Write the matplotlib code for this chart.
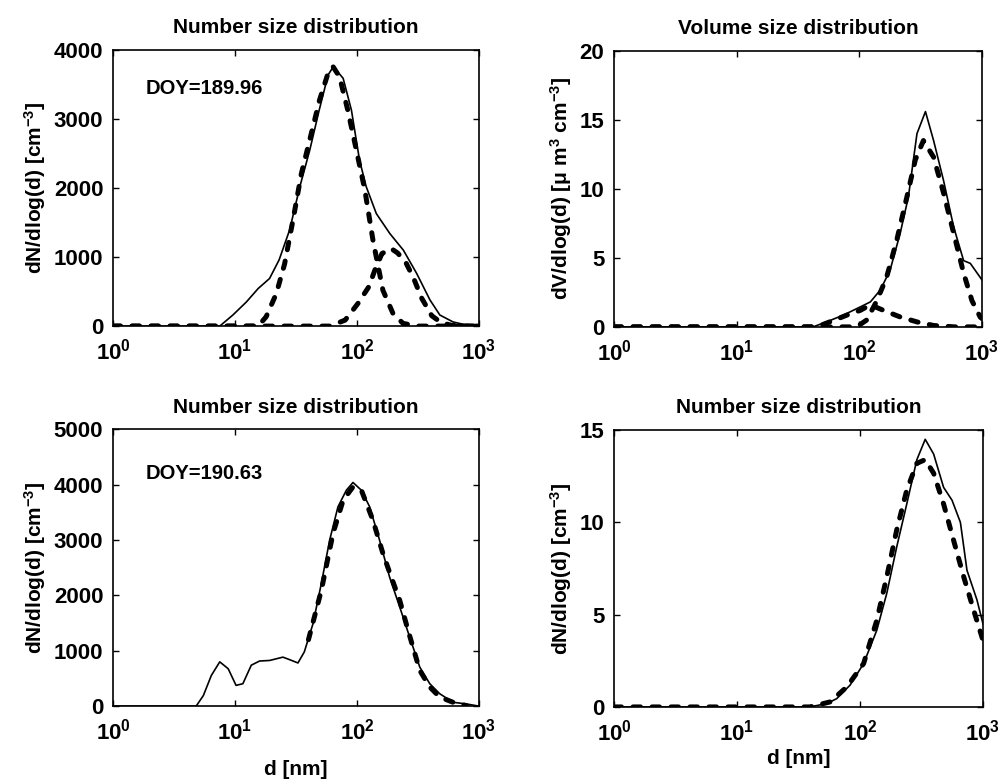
import numpy as np
import matplotlib
matplotlib.use('Agg')
from matplotlib import pyplot as plt

plt.rcParams['font.family'] = 'Liberation Sans'
plt.rcParams['font.weight'] = 'bold'
plt.rcParams['mathtext.fontset'] = 'custom'
plt.rcParams['mathtext.rm'] = 'Liberation Sans:bold'
plt.rcParams['mathtext.it'] = 'Liberation Sans:bold'
plt.rcParams['mathtext.bf'] = 'Liberation Sans:bold'

# panel 1: number size distribution, DOY 189.96
d1_meas = [1, 7.5, 9.6, 12.4, 15.5, 19.2, 23, 28, 34, 41, 49, 58, 64, 77, 90, 105, 119,
           144, 186, 240, 309, 396, 478, 613, 790, 1000]
n1_meas = [0, 0, 160, 350, 545, 690, 960, 1390, 2020, 2550, 3130, 3640, 3760, 3590, 3130,
           2400, 2020, 1630, 1340, 1100, 760, 380, 160, 60, 15, 0]
d1_fit1 = [1, 15.5, 18, 21.8, 25.5, 29.9, 35, 41, 49.4, 57.8, 63.6, 72, 84, 98.8, 116, 135,
           163, 197, 238, 309, 1000]
n1_fit1 = [0, 0, 135, 470, 900, 1540, 2210, 2700, 3280, 3660, 3760, 3610, 3130, 2550, 1970,
           1250, 520, 185, 40, 0, 0]
d1_fit2 = [1, 60, 80, 102, 125, 140, 160, 190, 215, 250, 290, 340, 410, 490, 600, 1000]
n1_fit2 = [0, 0, 87, 330, 570, 810, 1050, 1125, 1060, 930, 700, 400, 150, 50, 10, 0]

# panel 2: volume size distribution
d2_meas = [1, 42, 54, 74, 102, 123, 148, 178, 215, 251, 295, 346, 403, 486, 587, 708, 803, 1000]
v2_meas = [0, 0, 0.36, 0.85, 1.45, 1.81, 2.66, 4.1, 6.76, 9.4, 14.0, 15.6, 13.5, 10.6, 7.25,
           4.8, 4.6, 3.4]
d2_fit1 = [1, 42, 48, 61, 79, 102, 123, 157, 215, 295, 403, 600, 1000]
v2_fit1 = [0, 0, 0.1, 0.45, 0.85, 1.2, 1.6, 1.2, 0.72, 0.36, 0.1, 0, 0]
d2_fit2 = [1, 95, 115, 139, 167, 202, 244, 286, 333, 403, 486, 587, 708, 828, 968, 1000]
v2_fit2 = [0, 0, 0.5, 1.9, 3.6, 6.3, 9.4, 12.1, 13.5, 12.3, 9.7, 6.8, 3.9, 1.9, 0.7, 0.6]

# panel 3: number size distribution, DOY 190.63
d3_meas = [1, 4.8, 5.5, 6.4, 7.5, 8.8, 10.2, 11.6, 13.6, 15.9, 19.2, 24.7, 28, 32.8, 37, 43.6,
           51, 59.7, 69.8, 81.8, 92.7, 108.6, 127, 153, 185, 224, 270, 327, 395, 476, 612,
           787, 1000]
n3_meas = [0, 0, 190, 555, 800, 675, 375, 405, 740, 815, 825, 885, 840, 780, 980, 1490, 2215,
           3000, 3600, 3900, 4040, 3900, 3600, 3000, 2330, 1790, 1250, 705, 405, 225, 70, 40, 0]
d3_fit = [40, 51, 63.6, 77, 92.7, 108.6, 135, 163, 191, 224, 262, 327, 395, 476, 612, 787]
n3_fit = [1200, 2090, 3120, 3720, 3960, 3900, 3360, 2760, 2330, 1910, 1370, 645, 345, 165, 70, 10]

# panel 4: number size distribution (large mode)
d4_meas = [1, 39, 53.7, 64.7, 83, 107, 137, 165, 199, 240, 290, 339, 397, 478, 560, 655, 741,
           893, 1000]
n4_meas = [0, 0, 0.18, 0.45, 1.18, 2.35, 4.16, 6.15, 8.68, 11.0, 13.4, 14.5, 13.7, 11.9, 11.2,
           10.0, 7.4, 5.8, 4.5]
d4_fit = [1, 39, 57, 78, 107, 137, 165, 199, 240, 290, 339, 397, 478, 576, 697, 840, 1000]
n4_fit = [0, 0, 0.27, 1.08, 2.35, 4.7, 7.05, 9.6, 11.75, 13.2, 13.4, 12.66, 11.0, 9.04, 7.05,
          5.24, 3.6]

fig = plt.figure(figsize=(10, 7.82), dpi=100)
boxes = [[0.113, 0.583, 0.366, 0.353], [0.614, 0.582, 0.368, 0.353],
         [0.113, 0.097, 0.366, 0.354], [0.614, 0.096, 0.369, 0.354]]
axs = [fig.add_axes(b) for b in boxes]

dash = dict(color='black', lw=3.6, linestyle=(0, (1.5, 2.3)), dash_capstyle='round')
solid = dict(color='black', lw=1.2)
fs_title = 15
fs_label = 15

ax = axs[0]
ax.plot(d1_fit1, n1_fit1, **dash)
ax.plot(d1_fit2, n1_fit2, **dash)
ax.plot(d1_meas, n1_meas, **solid)
ax.set_ylim(0, 4000)
ax.set_yticks([0, 1000, 2000, 3000, 4000])
ax.set_title('Number size distribution', fontsize=fs_title, fontweight='bold', pad=12)
ax.set_ylabel('dN/dlog(d) [cm$^{-3}$]', fontsize=fs_label, fontweight='bold')
ax.text(0.09, 0.86, 'DOY=189.96', transform=ax.transAxes, fontsize=14.5, va='center')

ax = axs[1]
ax.plot(d2_fit1, v2_fit1, **dash)
ax.plot(d2_fit2, v2_fit2, **dash)
ax.plot(d2_meas, v2_meas, **solid)
ax.set_ylim(0, 20)
ax.set_yticks([0, 5, 10, 15, 20])
ax.set_title('Volume size distribution', fontsize=fs_title, fontweight='bold', pad=12)
ax.set_ylabel('dV/dlog(d) [$\\mu$ m$^{3}$ cm$^{-3}$]', fontsize=fs_label, fontweight='bold')

ax = axs[2]
ax.plot(d3_fit, n3_fit, **dash)
ax.plot(d3_meas, n3_meas, **solid)
ax.set_ylim(0, 5000)
ax.set_yticks([0, 1000, 2000, 3000, 4000, 5000])
ax.set_title('Number size distribution', fontsize=fs_title, fontweight='bold', pad=12)
ax.set_ylabel('dN/dlog(d) [cm$^{-3}$]', fontsize=fs_label, fontweight='bold')
ax.set_xlabel('d [nm]', fontsize=fs_label, fontweight='bold', labelpad=11)
ax.text(0.09, 0.84, 'DOY=190.63', transform=ax.transAxes, fontsize=14.5, va='center')

ax = axs[3]
ax.plot(d4_fit, n4_fit, **dash)
ax.plot(d4_meas, n4_meas, **solid)
ax.set_ylim(0, 15)
ax.set_yticks([0, 5, 10, 15])
ax.set_title('Number size distribution', fontsize=fs_title, fontweight='bold', pad=12)
ax.set_ylabel('dN/dlog(d) [cm$^{-3}$]', fontsize=fs_label, fontweight='bold')
ax.set_xlabel('d [nm]', fontsize=fs_label, fontweight='bold', labelpad=3)

for ax in axs:
    ax.set_xscale('log')
    ax.set_xlim(1, 1000)
    ax.set_xticks([1, 10, 100, 1000])
    ax.minorticks_off()
    ax.tick_params(direction='in', top=True, right=True, length=4, width=1,
                   labelsize=16)
    ax.tick_params(axis='x', pad=9)
    ax.tick_params(axis='y', pad=7)
    for lab in ax.get_xticklabels() + ax.get_yticklabels():
        lab.set_fontweight('bold')
    for s in ax.spines.values():
        s.set_linewidth(1.2)

plt.savefig('out.png', dpi=100)
